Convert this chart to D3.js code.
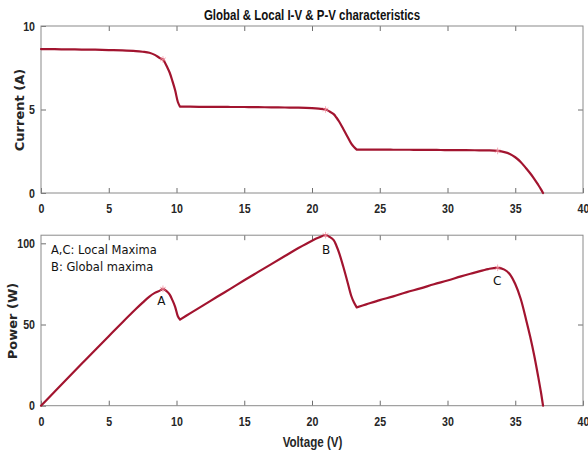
<!DOCTYPE html>
<html>
<head>
<meta charset="utf-8">
<script src="https://cdn.jsdelivr.net/npm/d3@7"></script>
<style>
  html, body { margin: 0; padding: 0; background: #fff; }
  svg { display: block; }
  .tick text { font-family: "Liberation Sans", Arial, sans-serif; font-weight: bold; font-size: 12.5px; fill: #262626; }
  .tick line { stroke: #6e6e6e; }
</style>
</head>
<body>
<svg id="chart" width="588" height="454"></svg>
<script>
// PV array sweep under partial shading: terminal voltage (V), current (A), power (W)
const voltage = [0, 1, 2, 3, 4, 5, 6, 7, 7.5, 8.0, 8.4, 8.8, 9.0, 9.15, 9.3, 9.5, 9.7, 9.9, 10.1, 10.26,
  11, 12, 13, 14, 15, 16, 17, 18, 19, 20, 20.5, 21.0, 21.3, 21.6, 21.8, 22.0, 22.3, 22.6, 22.9, 23.1, 23.3,
  24, 25, 26, 27, 28, 29, 30, 31, 32, 33, 33.7, 34.2, 34.6, 35.0, 35.4, 35.8, 36.1, 36.4, 36.7, 36.9, 37.05];
const current = [8.62, 8.61, 8.60, 8.59, 8.58, 8.56, 8.54, 8.50, 8.46, 8.40, 8.27, 8.07, 8.00, 7.80, 7.56, 7.20, 6.70, 6.15, 5.45, 5.17,
  5.17, 5.16, 5.16, 5.15, 5.15, 5.14, 5.13, 5.12, 5.11, 5.08, 5.05, 5.00, 4.88, 4.72, 4.52, 4.28, 3.85, 3.40, 2.95, 2.75, 2.60,
  2.60, 2.60, 2.59, 2.59, 2.58, 2.58, 2.57, 2.57, 2.56, 2.55, 2.52, 2.45, 2.34, 2.14, 1.86, 1.48, 1.18, 0.85, 0.48, 0.22, 0];
const power = [0, 8.61, 17.2, 25.77, 34.32, 42.8, 51.24, 59.5, 63.45, 67.2, 69.47, 71.02, 72.0, 71.37, 70.31, 68.4, 64.99, 60.89, 55.05, 53.04,
  56.87, 61.92, 67.08, 72.1, 77.25, 82.24, 87.21, 92.16, 97.09, 101.6, 103.53, 105.0, 103.94, 101.95, 98.54, 94.16, 85.86, 76.84, 67.56, 63.53, 60.58,
  62.4, 65.0, 67.34, 69.93, 72.24, 74.82, 77.1, 79.67, 81.92, 84.15, 84.92, 83.79, 80.96, 74.9, 65.84, 52.98, 42.6, 30.94, 17.62, 8.12, 0];

// Voltages where a bypass diode starts conducting (sharp corners in both curves)
const bypassVoltage = [10.26, 23.3];

// Maximum power points: A and C local, B global
const mppLabels = ["A", "B", "C"];
const mppVoltage = [9.0, 21.0, 33.7];
const mppCurrent = [8.00, 5.00, 2.52];
const mppPower = [72.0, 105.0, 84.92];

const xTicks = [0, 5, 10, 15, 20, 25, 30, 35, 40];
const currentTicks = [0, 5, 10];
const powerTicks = [0, 50, 100];
const noteLines = ["A,C: Local Maxima", "B: Global maxima"];

const lineColor = "#A2142F";
const boxColor = "#8a8a8a";
const svg = d3.select("#chart");

const x = d3.scaleLinear().domain([0, 40]).range([41, 583]);
const yI = d3.scaleLinear().domain([0, 10]).range([193, 26]);
const yP = d3.scaleLinear().domain([0, 105]).range([405.7, 235.2]);

// Narrow the tick labels horizontally (condensed look) while keeping them anchored
function condense(axisG, s) {
  axisG.selectAll(".tick text").each(function () {
    const t = d3.select(this);
    const tx = +t.attr("x") || 0, ty = +t.attr("y") || 0;
    t.attr("x", 0).attr("y", 0).attr("transform", `translate(${tx},${ty}) scale(${s},1)`);
  });
}

function panel(y, yTicks) {
  const g = svg.append("g");
  const [y0, y1] = y.range();
  const tickLen = 5;
  g.append("g").attr("transform", `translate(0,${y0})`)
    .call(d3.axisBottom(x).tickValues(xTicks).tickSizeInner(-tickLen).tickSizeOuter(0).tickPadding(11))
    .call(a => a.select(".domain").remove())
    .call(a => condense(a, 0.85));
  g.append("g").attr("transform", `translate(0,${y1})`)
    .call(d3.axisTop(x).tickValues(xTicks.slice(1, -1)).tickSizeInner(-tickLen).tickSizeOuter(0).tickFormat(""))
    .call(a => a.select(".domain").remove());
  g.append("g").attr("transform", `translate(${x.range()[0]},0)`)
    .call(d3.axisLeft(y).tickValues(yTicks).tickSizeInner(-tickLen).tickSizeOuter(0).tickPadding(6))
    .call(a => a.select(".domain").remove())
    .call(a => condense(a, 0.85));
  g.append("g").attr("transform", `translate(${x.range()[1]},0)`)
    .call(d3.axisRight(y).tickValues(yTicks.slice(1, -1)).tickSizeInner(-tickLen).tickSizeOuter(0).tickFormat(""))
    .call(a => a.select(".domain").remove());
  g.append("rect")
    .attr("x", x.range()[0]).attr("y", y1)
    .attr("width", x.range()[1] - x.range()[0]).attr("height", y0 - y1)
    .attr("fill", "none").attr("stroke", boxColor).attr("stroke-width", 1);
  return g;
}

// Smooth within each string section, sharp at the bypass corners
function drawCurve(g, ys, y) {
  const line = d3.line().x(d => x(d[0])).y(d => y(d[1])).curve(d3.curveCatmullRom.alpha(0.5));
  const pts = voltage.map((v, i) => [v, ys[i]]);
  const cuts = [0, ...bypassVoltage.map(b => voltage.indexOf(b)), voltage.length - 1];
  let d = "";
  for (let k = 0; k < cuts.length - 1; k++) d += line(pts.slice(cuts[k], cuts[k + 1] + 1));
  g.append("path")
    .attr("d", d)
    .attr("fill", "none")
    .attr("stroke", lineColor)
    .attr("stroke-width", 2.2)
    .attr("stroke-linecap", "round")
    .attr("stroke-linejoin", "round");
}

function drawMarkers(g, ys, y) {
  mppVoltage.forEach((v, i) => {
    g.append("path")
      .attr("d", d3.symbol(d3.symbolAsterisk || d3.symbolCross, 30)())
      .attr("transform", `translate(${x(v)},${y(ys[i])})`)
      .attr("fill", "none")
      .attr("stroke", "#f28a9a")
      .attr("stroke-opacity", 0.7)
      .attr("stroke-width", 1);
  });
}

const gTop = panel(yI, currentTicks);
drawCurve(gTop, current, yI);
drawMarkers(gTop, mppCurrent, yI);

const gBot = panel(yP, powerTicks);
drawCurve(gBot, power, yP);
drawMarkers(gBot, mppPower, yP);

// Title and axis labels
svg.append("text")
  .attr("transform", "translate(312,20) scale(0.82,1)")
  .attr("text-anchor", "middle")
  .style("font-family", '"Liberation Sans", Arial, sans-serif')
  .style("font-weight", "bold").style("font-size", "14px").style("fill", "#111")
  .text("Global & Local I-V & P-V characteristics");

svg.append("text")
  .attr("transform", "translate(24,110) rotate(-90)")
  .attr("text-anchor", "middle")
  .style("font-family", '"DejaVu Sans", Verdana, sans-serif')
  .style("font-weight", "bold").style("font-size", "13px").style("fill", "#262626")
  .text("Current (A)");

svg.append("text")
  .attr("transform", "translate(17,321) rotate(-90)")
  .attr("text-anchor", "middle")
  .style("font-family", '"DejaVu Sans", Verdana, sans-serif')
  .style("font-weight", "bold").style("font-size", "13px").style("fill", "#262626")
  .text("Power (W)");

svg.append("text")
  .attr("transform", "translate(312.5,447) scale(0.8,1)")
  .attr("text-anchor", "middle")
  .style("font-family", '"Liberation Sans", Arial, sans-serif')
  .style("font-weight", "bold").style("font-size", "14.5px").style("fill", "#262626")
  .text("Voltage (V)");

// Legend note and point labels
svg.selectAll(".note").data(noteLines).enter().append("text")
  .attr("class", "note")
  .attr("x", 51).attr("y", (d, i) => 254 + i * 17)
  .style("font-family", '"DejaVu Sans", Verdana, sans-serif')
  .style("font-size", "11.5px").style("fill", "#111")
  .text(d => d);

const labelDx = [0.5, 2.5, 1.5];
const labelDy = [16.2, 19.2, 17.6];
mppLabels.forEach((lab, i) => {
  svg.append("text")
    .attr("x", x(mppVoltage[i]) - 2 + labelDx[i])
    .attr("y", yP(mppPower[i]) + labelDy[i])
    .attr("text-anchor", "middle")
    .style("font-family", '"DejaVu Sans", Verdana, sans-serif')
    .style("font-size", "12px").style("fill", "#111")
    .text(lab);
});
</script>
</body>
</html>
